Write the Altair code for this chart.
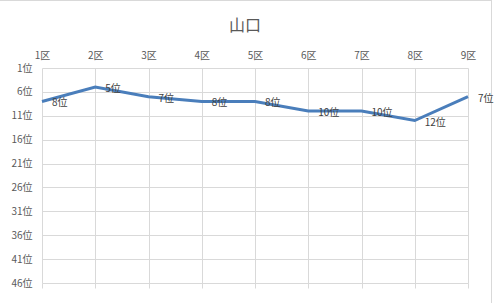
import altair as alt
import pandas as pd

districts = ["1区", "2区", "3区", "4区", "5区", "6区", "7区", "8区", "9区"]
ranks = [8, 5, 7, 8, 8, 10, 10, 12, 7]
labels = ["8位", "5位", "7位", "8位", "8位", "10位", "10位", "12位", "7位"]
y_ticks = [1, 6, 11, 16, 21, 26, 31, 36, 41, 46]

df = pd.DataFrame({"district": districts, "rank": ranks, "label": labels})

FONT = "Noto Sans CJK JP"
W, H = 426, 215
GRID = "#d9d9d9"

x_scale = alt.Scale(type="point", padding=0)
y_scale = alt.Scale(domain=[1, 46], reverse=True, nice=False, zero=False)

line = alt.Chart(df).mark_line(color="#4a7ebb", strokeWidth=3).encode(
    x=alt.X("district:N", sort=districts, scale=x_scale,
            axis=alt.Axis(orient="top", title=None, labelAngle=0, labelColor="#595959",
                          labelFontSize=10, labelFont=FONT, labelPadding=8,
                          domain=False, ticks=False, grid=True, gridColor=GRID)),
    y=alt.Y("rank:Q", scale=y_scale,
            axis=alt.Axis(orient="left", values=y_ticks, labelExpr="datum.value + '位'", title=None,
                          domain=False, ticks=False, grid=True, gridColor=GRID,
                          labelPadding=10, labelColor="#595959", labelFontSize=10,
                          labelFont=FONT)),
)

ticks_bottom = alt.Chart(df).mark_line(opacity=0).encode(
    x=alt.X("district:N", sort=districts, scale=x_scale,
            axis=alt.Axis(orient="bottom", title=None, labels=False, domain=False,
                          ticks=True, tickSize=5, tickColor=GRID, grid=False)),
    y=alt.Y("rank:Q", scale=y_scale, axis=None),
)

text = alt.Chart(df).mark_text(align="left", baseline="middle", dx=10, dy=2,
                               fontSize=10, color="#404040", font=FONT).encode(
    x=alt.X("district:N", sort=districts, scale=x_scale, axis=None),
    y=alt.Y("rank:Q", scale=y_scale, axis=None),
    text="label:N",
)

frame = alt.Chart(df).mark_rect(fillOpacity=0, stroke=GRID, strokeWidth=1, clip=False).encode(
    x=alt.value(-50), x2=alt.value(449.5), y=alt.value(-67.5), y2=alt.value(240)
)

chart = alt.layer(frame, line, ticks_bottom, text).resolve_axis(
    x="independent", y="independent"
).properties(
    width=W, height=H,
    title=alt.TitleParams("山口", fontSize=16, color="#595959", font=FONT,
                          fontWeight="normal", anchor="middle", dx=-10, offset=-34),
    autosize=alt.AutoSizeParams(type="none"),
    padding={"left": 42, "top": 68, "right": 26, "bottom": 20},
    background="white",
).configure_view(stroke=None)

chart.save("out.html", embed_options={"renderer": "svg", "actions": False})
